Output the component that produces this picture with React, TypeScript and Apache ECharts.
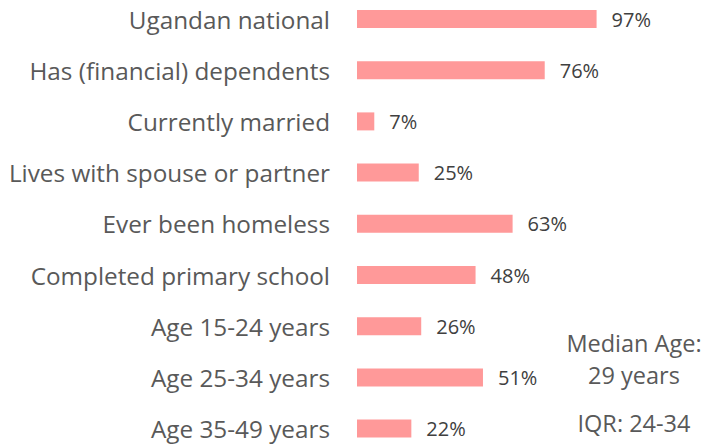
import React, { useEffect, useRef } from "react";
import * as echarts from "echarts";

const categories = [
  "Ugandan national",
  "Has (financial) dependents",
  "Currently married",
  "Lives with spouse or partner",
  "Ever been homeless",
  "Completed primary school",
  "Age 15-24 years",
  "Age 25-34 years",
  "Age 35-49 years",
];
const values = [97, 76, 7, 25, 63, 48, 26, 51, 22];
const noteLines = ["Median Age:", "29 years", "IQR: 24-34"];

const OFF = 10;

export default function App() {
  const ref = useRef<HTMLDivElement>(null);
  useEffect(() => {
    const chart = echarts.init(ref.current!, undefined, { renderer: "svg" });
    const font = "'Open Sans', sans-serif";
    const note = (i: number, y: number) => ({
      type: "text",
      x: 634,
      y: y + OFF,
      style: { text: noteLines[i], fontFamily: font, fontSize: 23.5, fill: "#595959", textAlign: "center", textVerticalAlign: "middle" },
    });
    chart.setOption({
      animation: false,
      backgroundColor: "#ffffff",
      grid: { left: 357, width: 247, top: OFF - 6.6, height: 460.8, containLabel: false },
      xAxis: { type: "value", min: 0, max: 100, show: false },
      yAxis: {
        type: "category",
        data: categories,
        inverse: true,
        axisLine: { show: false },
        axisTick: { show: false },
        axisLabel: { fontFamily: font, fontSize: 24.3, color: "#595959", margin: 27 },
      },
      series: [
        {
          type: "bar",
          data: values,
          barWidth: 18,
          itemStyle: { color: "#FF9999" },
          label: {
            show: true,
            position: "right",
            distance: 15,
            formatter: "{c}%",
            fontFamily: font,
            fontSize: 20,
            color: "#404040",
          },
        },
      ],
      graphic: [note(0, 343), note(1, 375), note(2, 423)],
    });
    return () => chart.dispose();
  }, []);
  return (
    <div style={{ width: 705, height: 444, position: "absolute", left: 0, top: 0, overflow: "hidden" }}>
      <div ref={ref} style={{ width: 705, height: 470, position: "absolute", left: 0, top: -OFF }} />
    </div>
  );
}
